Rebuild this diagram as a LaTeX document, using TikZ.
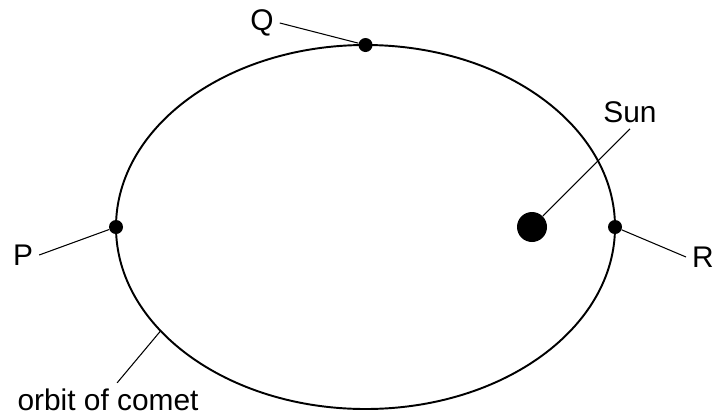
\documentclass[tikz,border=0pt]{standalone}
\usepackage{fontspec}
\setmainfont{Liberation Sans}
\usepackage{tikz}
\usetikzlibrary{calc}

\tikzset{
  bahn/.style={line width=1.1pt},
  zeiger/.style={line width=0.6pt},
  punkt/.style={circle,fill=black,inner sep=0pt,minimum size=0.28cm},
  sonne/.style={circle,fill=black,inner sep=0pt,minimum size=0.6cm},
  txt/.style={font=\fontsize{17}{20}\selectfont}
}

\begin{document}
\begin{tikzpicture}
  \useasboundingbox (0,0) rectangle (14.3,8.3);
  % Bahn
  \coordinate (O) at (7.31,3.76);
  \draw[bahn] (O) ellipse [x radius=4.99, y radius=3.64];
  % Punkte
  \node[punkt] (q) at ($(O)+(0,3.64)$) {};
  \node[punkt] (p) at ($(O)+(-4.99,0)$) {};
  \node[punkt] (r) at ($(O)+(4.99,0)$) {};
  \node[sonne] (sun) at (10.64,3.76) {};
  \coordinate (oc) at ($(O)+(214.8:4.99 and 3.64)$);
  % Beschriftungen
  \node[txt] (Q) at (5.24,7.84) {Q};
  \node[txt] (P) at (0.46,3.20) {P};
  \node[txt] (R) at (14.06,3.16) {R};
  \node[txt] (Sun) at (12.60,6.06) {Sun};
  \node[txt] (orbit) at (2.16,0.30) {orbit of comet};
  \draw[zeiger] (Q.east) -- (q);
  \draw[zeiger] (P.east) -- (p);
  \draw[zeiger] (R.west) -- (r);
  \draw[zeiger] (Sun.south) -- (sun);
  \draw[zeiger] (orbit.62) -- (oc);
\end{tikzpicture}
\end{document}
